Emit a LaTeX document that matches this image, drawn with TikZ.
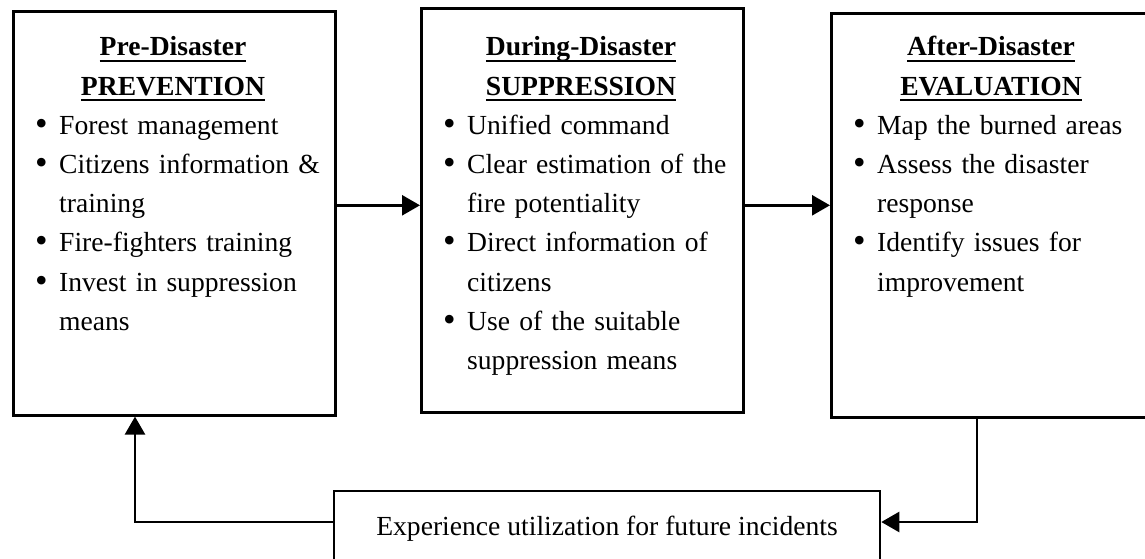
\documentclass[tikz,border=0pt]{standalone}
\usepackage{fontspec}
\setmainfont{Liberation Serif}
\usetikzlibrary{arrows.meta, positioning}

% underlined heading word, bullet line with hanging indent
\newcommand{\hdline}[1]{\leavevmode\setbox0\hbox{#1}\rlap{\rule[-3pt]{\wd0}{1pt}}\box0}
\newcommand{\bitem}[1]{\par\leftskip=11.6pt\rightskip=0pt plus 1fil%
  \hangindent=12pt\hangafter=1%
  \noindent\makebox[12pt][l]{\raisebox{-0.5pt}{\scalebox{1.3}{\textbullet}}}#1\par}

\begin{document}
\begin{tikzpicture}[x=0.5pt, y=0.5pt,
  box/.style={draw, line width=1.3pt, anchor=north west,
              minimum width=161pt, minimum height=202pt, inner sep=0pt},
  txt/.style={anchor=base, text width=161pt, inner sep=0pt,
              font=\fontsize{13.8pt}{19.6pt}\selectfont},
  flow/.style={line width=1.3pt, -{Triangle[length=9pt, width=10pt]}}]

  \useasboundingbox (0,0) rectangle (1145,558);
  \clip (0,0) rectangle (1145,558);

  % Three phase boxes
  \node[box] (pre) at (12,548) {};
  \node[box] (dur) at (420,551) {};
  \node[box] (eva) at (830,546) {};

  % Box contents (heading baselines line up at y=502)
  \node[txt] (pretxt) at (173,502) {%
    {\centering\bfseries\hdline{Pre-Disaster}\\\hdline{PREVENTION}\par}
    \bitem{Forest management}
    \bitem{Citizens information \&\newline training}
    \bitem{Fire-fighters training}
    \bitem{Invest in suppression\newline means}};
  \node[txt] (durtxt) at (581,502) {%
    {\centering\bfseries\hdline{During-Disaster}\\\hdline{SUPPRESSION}\par}
    \bitem{Unified command}
    \bitem{Clear estimation of the\newline fire potentiality}
    \bitem{Direct information of\newline citizens}
    \bitem{Use of the suitable\newline suppression means}};
  \node[txt] (evatxt) at (991,502) {%
    {\centering\bfseries\hdline{After-Disaster}\\\hdline{EVALUATION}\par}
    \bitem{Map the burned areas}
    \bitem{Assess the disaster\newline response}
    \bitem{Identify issues for\newline improvement}};

  % Feedback box, runs off the bottom edge
  \node[draw, line width=1.3pt, anchor=base, minimum width=273pt,
        inner ysep=0pt, text height=22pt, text depth=30pt,
        font=\fontsize{13.8pt}{16pt}\selectfont] (exp) at (607,23)
        {Experience utilization for future incidents};

  \coordinate (turnR) at (977,36);
  \coordinate (turnL) at (135,36);

  % Connectors
  \draw[flow] ([yshift=4pt]pre.east) -- ([yshift=4pt]pre.east -| dur.west);
  \draw[flow] ([yshift=2.5pt]dur.east) -- ([yshift=2.5pt]dur.east -| eva.west);
  \draw[flow] (turnR |- eva.south) -- (turnR) -- (turnR -| exp.east);
  \draw[flow] (turnL -| exp.west) -- (turnL) -- (turnL |- pre.south);

\end{tikzpicture}
\end{document}
